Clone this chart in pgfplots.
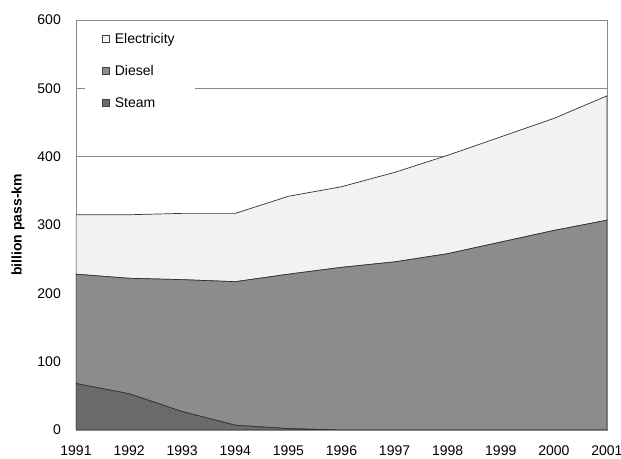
\documentclass[border=0pt]{standalone}
\usepackage{fontspec}
\setmainfont{Liberation Sans}
\usepackage{pgfplots}
\pgfplotsset{compat=1.18}

\definecolor{elec}{HTML}{F2F2F2}
\definecolor{dies}{HTML}{8C8C8C}
\definecolor{steam}{HTML}{6A6A6A}
\definecolor{frame}{HTML}{8A8A8A}

\begin{document}
\begin{tikzpicture}
\begin{axis}[
  scale only axis,
  width=531bp, height=410bp,
  xmin=1991, xmax=2001,
  ymin=0, ymax=600,
  xtick={1991,...,2001},
  ytick={0,100,...,600},
  x tick label style={/pgf/number format/1000 sep={}},
  /pgf/number format/assume math mode=true,
  major tick length=0pt,
  tick label style={font=\fontsize{14bp}{16bp}\selectfont, inner sep=0pt},
  y tick label style={xshift=-15bp},
  x tick label style={yshift=-16bp},
  ymajorgrids,
  grid style={draw=frame, line width=0.6bp},
  axis line style={draw=frame, line width=0.8bp},
  ylabel={billion pass-km},
  ylabel style={font=\fontsize{14bp}{16bp}\selectfont\bfseries,
    at={(rel axis cs:0,0.5)}, anchor=center, yshift=58bp},
  stack plots=y,
  reverse legend,
  legend style={draw=none, fill=white, at={(0,1)}, anchor=north west,
    xshift=9bp, yshift=-9bp, font=\fontsize{14bp}{16bp}\selectfont,
    row sep=20.5bp, inner xsep=0pt, inner ysep=4bp,
    nodes={inner sep=0pt},
    /tikz/every odd column/.append style={column sep=5.5bp}},
  legend cell align=left,
  legend image code/.code={\path (0bp,0bp);
    \draw[#1, draw=black!75, line width=0.6bp] (16.5bp,-3.5bp) rectangle (23.5bp,3.5bp);},
  every axis plot/.append style={draw=black!80, line width=0.7bp},
]
\addplot[fill=steam] coordinates {
  (1991,68) (1992,53) (1993,27) (1994,7) (1995,2) (1996,0)
  (1997,0) (1998,0) (1999,0) (2000,0) (2001,0)} \closedcycle;
\addlegendentry{Steam\hspace*{20bp}}
\addplot[fill=dies] coordinates {
  (1991,160) (1992,169) (1993,193) (1994,210) (1995,226) (1996,238)
  (1997,246) (1998,258) (1999,275) (2000,292) (2001,307)} \closedcycle;
\addlegendentry{Diesel\hspace*{20bp}}
\addplot[fill=elec] coordinates {
  (1991,87) (1992,93) (1993,97) (1994,100) (1995,114) (1996,118)
  (1997,131) (1998,144) (1999,154) (2000,164) (2001,182)} \closedcycle;
\addlegendentry{Electricity\hspace*{20bp}}
\end{axis}
\pgfresetboundingbox
\path ([shift={(-76bp,-29bp)}]current axis.south west)
  rectangle ([shift={(14bp,20bp)}]current axis.north east);
\end{tikzpicture}
\end{document}
